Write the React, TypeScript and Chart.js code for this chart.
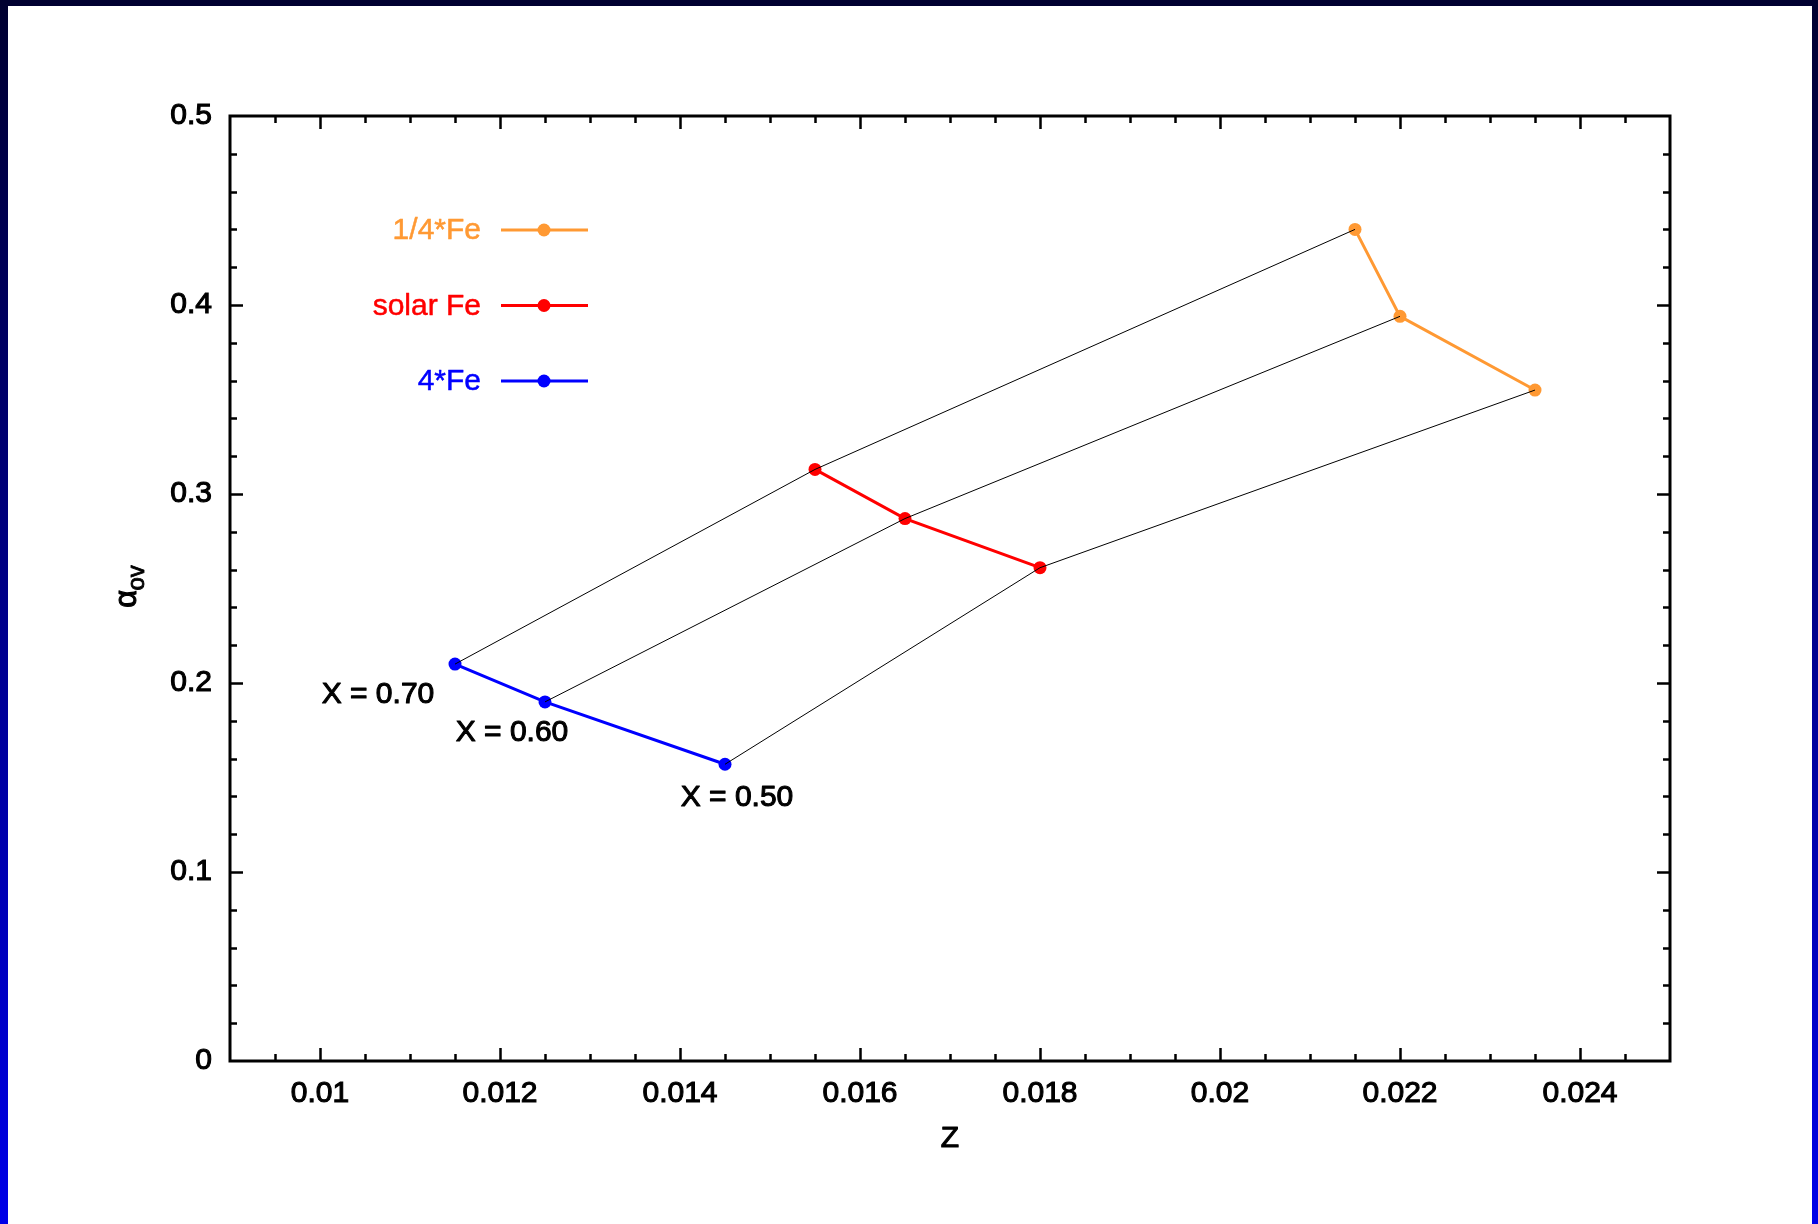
import React, { useEffect, useRef } from "react";
import { Chart, registerables } from "chart.js";

Chart.register(...registerables);

// ---- data ----
const zFourFe = [0.0115, 0.0125, 0.0145];
const alphaFourFe = [0.21, 0.19, 0.157];
const zSolarFe = [0.0155, 0.0165, 0.018];
const alphaSolarFe = [0.313, 0.287, 0.261];
const zQuarterFe = [0.0215, 0.022, 0.0235];
const alphaQuarterFe = [0.44, 0.394, 0.355];

const seriesNames = ["1/4*Fe", "solar Fe", "4*Fe"];
const seriesColors = ["#ff9933", "#ff0000", "#0000ff"];

const hydrogenLabels = ["X = 0.70", "X = 0.60", "X = 0.50"];
const hydrogenLabelZ = [0.010644, 0.012133, 0.014633];
const hydrogenLabelAlpha = [0.194, 0.1736, 0.1392];

const xTickValues = [0.01, 0.012, 0.014, 0.016, 0.018, 0.02, 0.022, 0.024];
const xTickLabels = ["0.01", "0.012", "0.014", "0.016", "0.018", "0.02", "0.022", "0.024"];
const yTickValues = [0, 0.1, 0.2, 0.3, 0.4, 0.5];
const yTickLabels = ["0", "0.1", "0.2", "0.3", "0.4", "0.5"];

const X_MIN = 0.009;
const X_MAX = 0.025;
const Y_MIN = 0;
const Y_MAX = 0.5;

const FONT = "'Liberation Sans', Arial, Helvetica, sans-serif";

const pts = (xs: number[], ys: number[]) => xs.map((x, i) => ({ x, y: ys[i] }));

function heavyText(ctx: CanvasRenderingContext2D, text: string, x: number, y: number, w = 1.1) {
  ctx.lineWidth = w;
  ctx.lineJoin = "round";
  ctx.strokeText(text, x, y);
  ctx.fillText(text, x, y);
}

const decorPlugin = {
  id: "decor",
  afterDraw(chart: any) {
    const ctx = chart.ctx as CanvasRenderingContext2D;
    const { left, right, top, bottom } = chart.chartArea;
    const xs = chart.scales.x;
    const ys = chart.scales.y;
    ctx.save();
    ctx.strokeStyle = "#000";
    ctx.lineCap = "butt";

    // inward ticks
    ctx.lineWidth = 2.5;
    for (let k = 1; k < 32; k++) {
      const v = X_MIN + k * 0.0005;
      const len = k % 4 === 2 ? 13 : 7;
      const px = Math.round(xs.getPixelForValue(v)) + 0.5;
      ctx.beginPath();
      ctx.moveTo(px, bottom);
      ctx.lineTo(px, bottom - len);
      ctx.moveTo(px, top);
      ctx.lineTo(px, top + len);
      ctx.stroke();
    }
    for (let k = 1; k < 25; k++) {
      const v = k * 0.02;
      const len = k % 5 === 0 ? 13 : 7;
      const py = Math.round(ys.getPixelForValue(v)) + 0.5;
      ctx.beginPath();
      ctx.moveTo(left, py);
      ctx.lineTo(left + len, py);
      ctx.moveTo(right, py);
      ctx.lineTo(right - len, py);
      ctx.stroke();
    }

    // frame
    ctx.lineWidth = 3;
    ctx.strokeRect(left, top, right - left, bottom - top);

    // axis titles
    ctx.fillStyle = "#000";
    ctx.strokeStyle = "#000";
    ctx.font = `30px ${FONT}`;
    ctx.textAlign = "center";
    ctx.textBaseline = "middle";
    heavyText(ctx, "Z", (left + right) / 2, bottom + 78);

    ctx.save();
    ctx.translate(left - 94, (top + bottom) / 2 - 2);
    ctx.rotate(-Math.PI / 2);
    ctx.textBaseline = "alphabetic";
    ctx.textAlign = "left";
    ctx.font = `30px ${FONT}`;
    const wa = ctx.measureText("α").width;
    ctx.font = `24px ${FONT}`;
    const wo = ctx.measureText("ov").width;
    const start = -(wa + wo) / 2;
    ctx.font = `31px ${FONT}`;
    heavyText(ctx, "α", start, 0);
    ctx.font = `24px ${FONT}`;
    heavyText(ctx, "ov", start + wa, 8, 0.9);
    ctx.restore();

    // legend
    for (let i = 0; i < seriesNames.length; i++) {
      const y = top + 114 + i * 75.5;
      ctx.fillStyle = seriesColors[i];
      ctx.strokeStyle = seriesColors[i];
      ctx.font = `30px ${FONT}`;
      ctx.textAlign = "right";
      ctx.textBaseline = "middle";
      heavyText(ctx, seriesNames[i], left + 251, y + 1, 0.5);
      ctx.lineWidth = 3;
      ctx.beginPath();
      ctx.moveTo(left + 271, y);
      ctx.lineTo(left + 358, y);
      ctx.stroke();
      ctx.beginPath();
      ctx.arc(left + 314, y, 6.5, 0, Math.PI * 2);
      ctx.fill();
    }

    // hydrogen labels
    ctx.fillStyle = "#000";
    ctx.strokeStyle = "#000";
    ctx.font = `30px ${FONT}`;
    ctx.textAlign = "center";
    ctx.textBaseline = "middle";
    for (let i = 0; i < hydrogenLabels.length; i++) {
      heavyText(
        ctx,
        hydrogenLabels[i],
        xs.getPixelForValue(hydrogenLabelZ[i]),
        ys.getPixelForValue(hydrogenLabelAlpha[i])
      );
    }
    ctx.restore();
  },
};

export default function App() {
  const ref = useRef<HTMLCanvasElement>(null);

  useEffect(() => {
    const canvas = ref.current;
    if (!canvas) return;

    const blackLines = [0, 1, 2].map((i) => ({
      label: hydrogenLabels[i],
      data: [
        { x: zFourFe[i], y: alphaFourFe[i] },
        { x: zSolarFe[i], y: alphaSolarFe[i] },
        { x: zQuarterFe[i], y: alphaQuarterFe[i] },
      ],
      showLine: true,
      borderColor: "#000",
      borderWidth: 1,
      pointRadius: 0,
      fill: false,
      order: 0,
    }));

    const coloured = [
      { label: seriesNames[0], data: pts(zQuarterFe, alphaQuarterFe), color: seriesColors[0] },
      { label: seriesNames[1], data: pts(zSolarFe, alphaSolarFe), color: seriesColors[1] },
      { label: seriesNames[2], data: pts(zFourFe, alphaFourFe), color: seriesColors[2] },
    ].map((d) => ({
      label: d.label,
      data: d.data,
      showLine: true,
      borderColor: d.color,
      backgroundColor: d.color,
      pointBackgroundColor: d.color,
      pointBorderWidth: 0,
      pointRadius: 6.5,
      borderWidth: 3,
      fill: false,
      order: 1,
    }));

    const tickFont = { family: FONT, size: 30 };

    const chart = new Chart(canvas, {
      type: "scatter",
      data: { datasets: [...blackLines, ...coloured] as any },
      options: {
        animation: false,
        responsive: false,
        devicePixelRatio: 1,
        events: [],
        layout: { padding: { top: 110, right: 142, left: 0, bottom: 0 } },
        plugins: { legend: { display: false }, tooltip: { enabled: false }, title: { display: false } },
        scales: {
          x: {
            type: "linear",
            position: "bottom",
            min: X_MIN,
            max: X_MAX,
            grid: { display: false, drawTicks: false },
            border: { display: false },
            afterBuildTicks: (s: any) => {
              s.ticks = xTickValues.map((v) => ({ value: v }));
            },
            afterFit: (s: any) => {
              s.height = 163;
            },
            ticks: {
              autoSkip: false,
              maxRotation: 0,
              minRotation: 0,
              padding: 15,
              color: "#000",
              textStrokeColor: "#000",
              textStrokeWidth: 1.1,
              font: tickFont,
              callback: (_v: any, i: number) => xTickLabels[i],
            },
          },
          y: {
            type: "linear",
            position: "left",
            min: Y_MIN,
            max: Y_MAX,
            grid: { display: false, drawTicks: false },
            border: { display: false },
            afterBuildTicks: (s: any) => {
              s.ticks = yTickValues.map((v) => ({ value: v }));
            },
            afterFit: (s: any) => {
              s.width = 222;
            },
            ticks: {
              autoSkip: false,
              padding: 18,
              color: "#000",
              textStrokeColor: "#000",
              textStrokeWidth: 1.1,
              font: tickFont,
              callback: (_v: any, i: number) => yTickLabels[i],
            },
          },
        },
      } as any,
      plugins: [decorPlugin],
    });

    return () => chart.destroy();
  }, []);

  return (
    <div
      style={{
        position: "fixed",
        left: 0,
        top: 0,
        width: 1818,
        height: 1224,
        background: "linear-gradient(to bottom, #000030 0%, #00008a 50%, #0000e8 100%)",
      }}
    >
      <div
        style={{
          position: "absolute",
          left: 8,
          top: 6,
          width: 1804,
          height: 1218,
          background: "#ffffff",
        }}
      >
        <canvas ref={ref} width={1804} height={1218} style={{ display: "block", width: 1804, height: 1218 }} />
      </div>
    </div>
  );
}
